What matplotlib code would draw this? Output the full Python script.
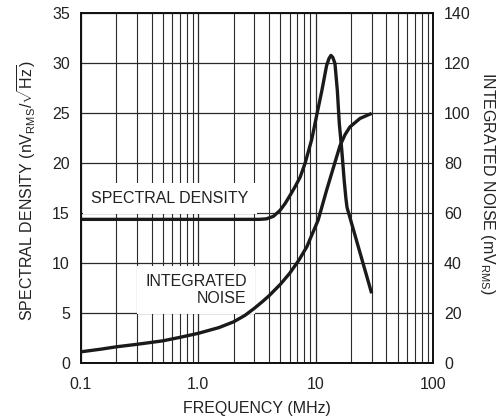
import matplotlib
matplotlib.use("Agg")
import matplotlib.pyplot as plt
from matplotlib.ticker import FixedLocator, LogLocator, NullFormatter

plt.rcParams["font.family"] = ["Liberation Sans", "DejaVu Sans"]
plt.rcParams["mathtext.fontset"] = "custom"
plt.rcParams["mathtext.rm"] = "Liberation Sans"
plt.rcParams["mathtext.it"] = "Liberation Sans"
plt.rcParams["mathtext.bf"] = "Liberation Sans"

# spectral density, nV/sqrt(Hz), left axis
sd_freq = [0.1, 1.0, 3.3, 3.8, 4.36, 4.97, 5.5, 6.05, 6.7, 7.36, 8.12, 9.26,
           10.2, 11.3, 12.4, 13.0, 13.5, 14.0, 14.6, 15.3, 15.9, 16.7, 17.5,
           18.1, 18.5, 30.0]
sd_vals = [14.4, 14.4, 14.4, 14.45, 14.7, 15.3, 16.0, 16.8, 17.7, 18.6, 20.0, 22.4,
           24.8, 27.3, 29.8, 30.5, 30.8, 30.6, 30.0, 27.3, 24.0, 21.3, 18.3,
           16.5, 15.6, 7.0]

# integrated noise, mV RMS, right axis
in_freq = [0.1, 0.15, 0.2, 0.3, 0.5, 0.7, 1.0, 1.5, 2.0, 2.5, 3.0, 3.5, 4.0,
           5.0, 6.0, 7.2, 8.4, 10.5, 12.4, 14.2, 16.1, 17.8, 19.6, 23.9, 30.0]
in_vals = [4.6, 5.7, 6.6, 7.6, 9.0, 10.4, 12.0, 14.3, 16.6, 19.2, 22.0, 24.6, 27.0,
           31.6, 36.0, 41.3, 46.6, 57.3, 69.3, 78.5, 87.0, 91.5, 94.6, 98.0, 100.0]

x_ticks = [0.1, 1.0, 10, 100]
x_labels = ["0.1", "1.0", "10", "100"]
left_ticks = [0, 5, 10, 15, 20, 25, 30, 35]
right_ticks = [0, 20, 40, 60, 80, 100, 120, 140]

fig = plt.figure(figsize=(5, 4.2), dpi=100)
ax = fig.add_axes([0.162, 0.135, 0.704, 0.833])
ax2 = ax.twinx()

ax.set_xscale("log")
ax.set_xlim(0.1, 100)
ax.set_ylim(0, 35)
ax2.set_ylim(0, 140)

ax.xaxis.set_major_locator(FixedLocator(x_ticks))
ax.set_xticklabels(x_labels)
ax.xaxis.set_minor_locator(LogLocator(base=10, subs=range(2, 10)))
ax.xaxis.set_minor_formatter(NullFormatter())
ax.set_yticks(left_ticks)
ax2.set_yticks(right_ticks)

grid_col = "#2a2a2a"
ax.grid(True, which="major", axis="both", color=grid_col, lw=0.9)
ax.grid(True, which="minor", axis="x", color=grid_col, lw=0.8)
ax.set_axisbelow(True)

ax.tick_params(axis="both", which="both", length=0, labelsize=11.5, colors="#222")
ax.tick_params(axis="x", pad=10)
ax.tick_params(axis="y", pad=8)
ax2.tick_params(axis="y", length=0, labelsize=11.5, pad=8, colors="#222")

for a in (ax, ax2):
    for sp in a.spines.values():
        sp.set_linewidth(1.3)
        sp.set_color("#111")

box = dict(facecolor="white", edgecolor="none", pad=6)
ax.text(0.574, 16.5, "SPECTRAL DENSITY", ha="center", va="center",
        fontsize=11.5, color="#222", bbox=box, zorder=3)
ax.text(2.59, 7.35, "INTEGRATED\nNOISE", ha="right", va="center",
        multialignment="right", linespacing=1.15,
        fontsize=11.5, color="#222", bbox=box, zorder=3)

ax.plot(sd_freq, sd_vals, color="#1a1a1a", lw=2.4, zorder=4,
        solid_joinstyle="round", solid_capstyle="butt")
ax2.plot(in_freq, in_vals, color="#1a1a1a", lw=2.4, zorder=4,
         solid_joinstyle="round", solid_capstyle="butt")

fig.text(0.513, 0.028, "FREQUENCY (MHz)", ha="center", va="center",
         fontsize=11.5, color="#222")
fig.text(0.054, 0.545,
         r"SPECTRAL DENSITY (nV$_{\mathrm{RMS}}$/$\sqrt{\mathrm{Hz}}$)",
         rotation=90, ha="center", va="center", fontsize=11.5, color="#222")
fig.text(0.974, 0.563, r"INTEGRATED NOISE (mV$_{\mathrm{RMS}}$)",
         rotation=270, ha="center", va="center", fontsize=11.5, color="#222")

fig.savefig("out.png", dpi=100)
